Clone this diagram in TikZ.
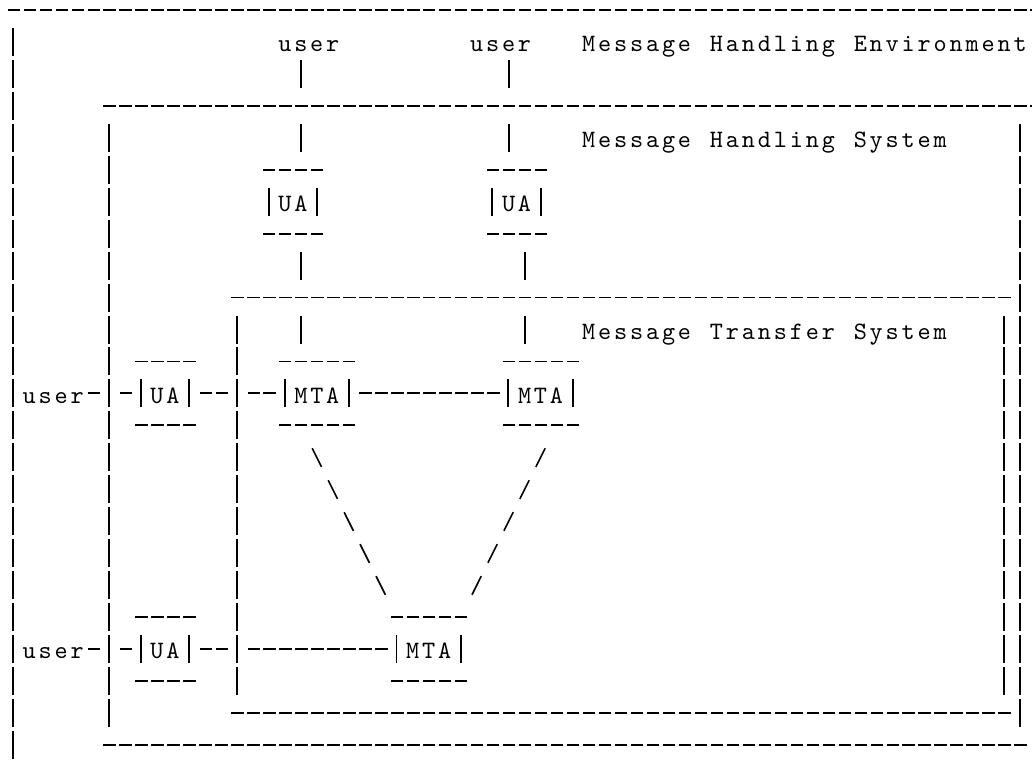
\documentclass[tikz,border=0pt]{standalone}
\usepackage{fontspec}
\newfontfamily\mhsfont{lmmono10-regular.otf}
% one character per cell of the grid
\ExplSyntaxOn
\cs_new_protected:Npn \cellrow #1
  { \exp_args:Nx \str_map_inline:nn {#1} { \makebox[15.98pt][c]{##1} } }
\ExplSyntaxOff
\tikzset{
	lbl/.style={inner sep=0pt, text height=19.2pt, text depth=0pt,
		font=\mhsfont\fontsize{25pt}{29pt}\selectfont},
	username/.style={lbl, minimum width=63.92pt, minimum height=31.97pt},
	agent/.style={lbl, minimum width=#1*15.98pt, minimum height=95.91pt},
	envname/.style={lbl, anchor=west},
	hdash/.style={line width=1.9pt, dash pattern=on 12.4pt off 3.58pt, dash phase=13.58pt},
	vdash/.style={line width=1.9pt, dash pattern=on 28pt off 3.97pt, dash phase=29.97pt},
	hborder/.style={hdash, preaction={draw=white, solid, line width=30pt}},
	vborder/.style={vdash, preaction={draw=white, solid, line width=14pt}},
	slash/.style={line width=1.6pt, dash pattern=on 20.8pt off 14.94pt, dash phase=28.27pt},
}
\begin{document}
\begin{tikzpicture}[x=15.98pt, y=-31.97pt]
\fill[white] (-0.826,-0.3065) rectangle (63.755,23.903);
\clip (-0.826,-0.3065) rectangle (63.755,23.903);
\foreach \n\x\y in {%
	user1/18.5/1%
	,user2/30.5/1%
	,user3/2.5/12%
	,user4/2.5/20%
}{
	\node[username](\n) at(\x,\y){\cellrow{user}};
}
\foreach \n\x\y\w\t in {%
	ua1/17.5/6/4/UA%
	,ua2/31.5/6/4/UA%
	,ua3/9.5/12/4/UA%
	,ua4/9.5/20/4/UA%
	%
	,mta1/19/12/5/MTA%
	,mta2/33/12/5/MTA%
	,mta3/26/20/5/MTA%
}{
	\node[agent=\w](\n) at(\x,\y){\cellrow{\t}};
	\draw[hdash] ([yshift=31.97pt]\n.west) -- ([yshift=31.97pt]\n.east);
	\draw[hdash] ([yshift=-31.97pt]\n.west) -- ([yshift=-31.97pt]\n.east);
	\draw[vdash] ([xshift=7.99pt, yshift=15.985pt]\n.west) -- ([xshift=7.99pt, yshift=-15.985pt]\n.west);
	\draw[vdash] ([xshift=-7.99pt, yshift=15.985pt]\n.east) -- ([xshift=-7.99pt, yshift=-15.985pt]\n.east);
}
\foreach \n\y\t in {%
	mhe/1/Message Handling Environment%
	,mhs/4/Message Handling System%
	,mts/10/Message Transfer System%
}{
	\node[envname](\n) at(35.5,\y){\cellrow{\t}};
}
\foreach \u\v in {%
	user3/ua3%
	,ua3/mta1%
	,mta1/mta2%
	,user4/ua4%
	,ua4/mta3%
}{
\draw[hdash] (\u.east) -- (\v.west);
}
\foreach \u\v\d in {%
	user1/ua1/-7.99pt%
	,ua1/mta1/7.99pt%
	,user2/ua2/7.99pt%
	,ua2/mta2/7.99pt%
}{
\draw[vdash] ([xshift=\d]\u.south) -- ([xshift=\d]\u.south |- \v.north);
}
\draw[slash] ([xshift=-7.99pt]mta1.south) -- (mta3.north west);
\draw[slash] ([xshift=7.99pt]mta2.south) -- (mta3.north east);
% environment
\draw[hdash] (-0.5,0) -- (64.5,0);
\draw[vdash] (0,0.5) -- (0,23.5);
% handling system
\draw[hborder] (5.5,3) -- (64.5,3);
\draw[hborder] (5.5,23) -- (63.5,23);
\draw[vborder] (6,3.5) -- (6,22.5);
\draw[vborder] (63,3.5) -- (63,22.5);
% transfer system
\draw[hborder] (13.5,9) -- (62.5,9);
\draw[hborder] (13.5,22) -- (62.5,22);
\draw[vborder] (14,9.5) -- (14,21.5);
\draw[vborder] (62,9.5) -- (62,21.5);
\end{tikzpicture}
\end{document}
